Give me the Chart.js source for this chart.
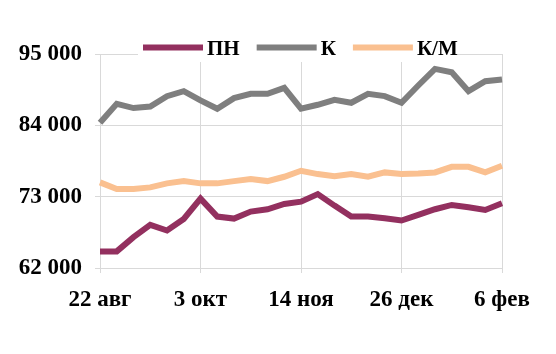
<!DOCTYPE html>
<html>
<head>
<meta charset="utf-8">
<script src="https://cdn.jsdelivr.net/npm/chart.js@4"></script>
<style>
html,body{margin:0;padding:0;background:#fff;}
#wrap{width:556px;height:354px;position:relative;}
</style>
</head>
<body>
<div id="wrap"><canvas id="c" width="556" height="354"></canvas></div>
<script>
const categories = ["22 авг","29 авг","5 сен","12 сен","19 сен","26 сен","3 окт","10 окт","17 окт","24 окт","31 окт","7 ноя","14 ноя","21 ноя","28 ноя","5 дек","12 дек","19 дек","26 дек","2 янв","9 янв","16 янв","23 янв","30 янв","6 фев"];
const seriesPN = [64560,64560,66760,68650,67780,69570,72700,69930,69620,70700,71060,71870,72230,73400,71620,69930,69930,69670,69320,70190,71060,71720,71360,70950,71980];
const seriesK = [84400,87320,86660,86910,88500,89270,87840,86560,88200,88860,88860,89780,86560,87170,87940,87480,88860,88500,87480,90140,92700,92180,89270,90800,91060];
const seriesKM = [75200,74180,74180,74430,75050,75400,75050,75050,75400,75710,75400,76070,76990,76480,76170,76480,76070,76740,76480,76580,76740,77600,77600,76740,77760];
const seriesNames = ["ПН","К","К/М"];
const yTicks = [62000,73000,84000,95000];

const FAMILY = "'Liberation Serif','Times New Roman',serif";
const FONT = {family:FAMILY, size:23, weight:'bold'};
const GRID = '#d9d9d9';
const colors = ['#93305f','#7f7f7f','#fac090'];

function fmt(v){return String(v).replace(/\B(?=(\d{3})+(?!\d))/g,' ');}

const legendPlugin = {
  id:'customLegend',
  beforeDatasetsDraw(chart){
    const ctx = chart.ctx;
    ctx.save();
    ctx.font = 'bold 21px ' + FAMILY;
    ctx.fillStyle = '#fff';
    ctx.fillRect(138, 34, 318, 28);
    let x = 143;
    const y = 47.5;
    chart.data.datasets.forEach((ds,i)=>{
      ctx.strokeStyle = ds.borderColor;
      ctx.lineWidth = 6;
      ctx.lineCap = 'butt';
      ctx.beginPath();
      ctx.moveTo(x, y);
      ctx.lineTo(x+60, y);
      ctx.stroke();
      x += 64;
      ctx.fillStyle = '#000';
      ctx.textBaseline = 'middle';
      ctx.textAlign = 'left';
      ctx.fillText(ds.label, x, y+2);
      x += ctx.measureText(ds.label).width + 17;
    });
    ctx.restore();
  }
};

new Chart(document.getElementById('c'), {
  type:'line',
  data:{
    labels:categories,
    datasets:[
      {label:seriesNames[0], data:seriesPN, borderColor:colors[0]},
      {label:seriesNames[1], data:seriesK, borderColor:colors[1]},
      {label:seriesNames[2], data:seriesKM, borderColor:colors[2]}
    ].map(d=>Object.assign(d,{borderWidth:6, pointRadius:0, tension:0, fill:false, borderJoinStyle:'miter'}))
  },
  options:{
    responsive:false,
    animation:false,
    layout:{padding:{top:54,right:54,left:0,bottom:0}},
    plugins:{legend:{display:false}, tooltip:{enabled:false}},
    scales:{
      x:{
        offset:false,
        grid:{
          color:(c)=> (c.index%6===0 ? GRID : 'rgba(0,0,0,0)'),
          tickColor:(c)=> (c.index%6===0 ? GRID : 'rgba(0,0,0,0)'),
          tickLength:5, lineWidth:1, drawOnChartArea:true
        },
        border:{color:GRID},
        ticks:{
          autoSkip:false, maxRotation:0, minRotation:0, padding:13,
          color:'#000', font:FONT,
          callback:function(v,i){return i%6===0 ? this.getLabelForValue(v) : '';}
        },
        afterFit(s){s.height = 354-268;}
      },
      y:{
        min:yTicks[0], max:yTicks[yTicks.length-1],
        afterBuildTicks(s){s.ticks = yTicks.map(v=>({value:v}));},
        grid:{color:GRID, tickColor:GRID, tickLength:5, lineWidth:1},
        border:{color:GRID},
        ticks:{padding:13, color:'#000', font:FONT, callback:(v)=>fmt(v)},
        afterFit(s){s.width = 100;}
      }
    }
  },
  plugins:[legendPlugin]
});
</script>
</body>
</html>
